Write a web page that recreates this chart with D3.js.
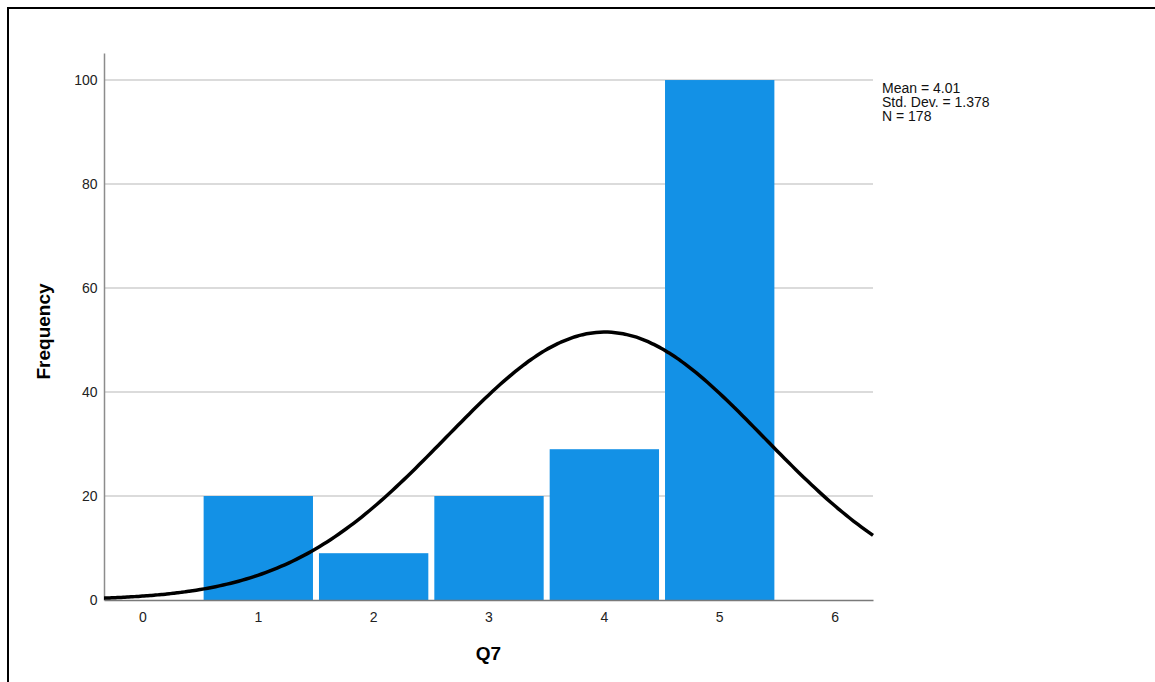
<!DOCTYPE html>
<html>
<head>
<meta charset="utf-8">
<script src="https://cdn.jsdelivr.net/npm/d3@7"></script>
<style>
  html, body { margin: 0; padding: 0; background: #fff; }
  svg { display: block; font-family: "Liberation Sans", Arial, sans-serif; }
</style>
</head>
<body>
<svg id="chart" width="1155" height="682"></svg>
<script>
// ---- data ----
const categories = [1, 2, 3, 4, 5];
const frequencies = [20, 9, 20, 29, 100];
const xTicks = [0, 1, 2, 3, 4, 5, 6];
const yTicks = [0, 20, 40, 60, 80, 100];
const statMean = 4.01;
const statSD = 1.378;
const statN = 178;
const statLabels = ["Mean = 4.01", "Std. Dev. = 1.378", "N = 178"];
const xTitle = "Q7";
const yTitle = "Frequency";

// ---- layout ----
const svg = d3.select("#chart");
const W = 1155, H = 682;
const plot = { left: 104, right: 873, top: 53, bottom: 600 };

// frame border
svg.append("path")
  .attr("d", `M8,${H + 5} L8,8 L${W + 5},8`)
  .attr("fill", "none").attr("stroke", "#000").attr("stroke-width", 2);

const x = d3.scaleLinear().domain([-1 / 3, 6 + 1 / 3]).range([plot.left, plot.right]);
const y = d3.scaleLinear().domain([0, 105.2]).range([plot.bottom, plot.top]);

// gridlines
svg.append("g").selectAll("line").data(yTicks.filter(d => d > 0)).join("line")
  .attr("x1", plot.left).attr("x2", plot.right)
  .attr("y1", d => y(d)).attr("y2", d => y(d))
  .attr("stroke", "#cfcfcf").attr("stroke-width", 1.5);

// bars
const inset = 3;
svg.append("g").selectAll("rect").data(categories).join("rect")
  .attr("x", (d) => x(d - 0.5) + inset + 0.5)
  .attr("width", (d) => x(d + 0.5) - x(d - 0.5) - 2 * inset)
  .attr("y", (d, i) => y(frequencies[i]))
  .attr("height", (d, i) => y(0) - y(frequencies[i]))
  .attr("fill", "#1391e6");

// y axis
const yAxis = svg.append("g").attr("transform", `translate(${plot.left},0)`)
  .call(d3.axisLeft(y).tickValues(yTicks).tickSize(0).tickPadding(6.5).tickFormat(d3.format("d")));
yAxis.select(".domain").attr("stroke", "#8c8c8c").attr("stroke-width", 1.5);
yAxis.selectAll("text").attr("font-size", 14).attr("fill", "#222").attr("font-family", "Liberation Sans, Arial, sans-serif");

// x axis
const xAxis = svg.append("g").attr("transform", `translate(0,${plot.bottom})`)
  .call(d3.axisBottom(x).tickValues(xTicks).tickSize(0).tickPadding(12.5).tickFormat(d3.format("d")));
xAxis.select(".domain").attr("stroke", "#7a7a7a").attr("stroke-width", 1.5);
xAxis.selectAll("text").attr("font-size", 14).attr("fill", "#222").attr("font-family", "Liberation Sans, Arial, sans-serif");

// fitted normal curve (from the displayed Mean, Std. Dev. and N, bin width 1)
const xs = d3.range(x.domain()[0], x.domain()[1] + 1e-9, (x.domain()[1] - x.domain()[0]) / 200);
const normal = v => statN * Math.exp(-0.5 * Math.pow((v - statMean) / statSD, 2)) / (statSD * Math.sqrt(2 * Math.PI));
svg.append("path")
  .datum(xs)
  .attr("d", d3.line().x(v => x(v)).y(v => y(normal(v))).curve(d3.curveBasis))
  .attr("fill", "none").attr("stroke", "#000").attr("stroke-width", 3.5);

// stats legend
svg.append("g").selectAll("text").data(statLabels).join("text")
  .attr("x", 882).attr("y", (d, i) => 92.5 + i * 14)
  .attr("font-size", 14).attr("fill", "#111")
  .text(d => d);

// axis titles
svg.append("text")
  .attr("x", (plot.left + plot.right) / 2).attr("y", 660)
  .attr("text-anchor", "middle").attr("font-size", 19).attr("font-weight", "bold").attr("fill", "#000")
  .text(xTitle);

svg.append("text")
  .attr("transform", `translate(50,${(plot.top + plot.bottom) / 2 + 5}) rotate(-90)`)
  .attr("text-anchor", "middle").attr("font-size", 19).attr("font-weight", "bold").attr("fill", "#000")
  .text(yTitle);
</script>
</body>
</html>
